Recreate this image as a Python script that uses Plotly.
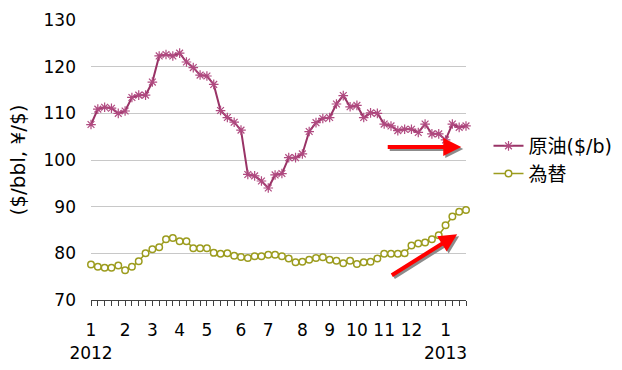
import plotly.graph_objects as go

# Weekly series, Jan 2012 - Jan 2013
crude_oil = [107.6, 110.9, 111.3, 111.1, 110.0, 110.5, 113.4, 113.9, 113.9, 116.7,
             122.3, 122.6, 122.3, 122.9, 121.0, 119.8, 118.2, 118.0, 116.2, 110.6,
             109.1, 108.1, 106.4, 96.9, 96.6, 95.5, 94.0, 96.8, 97.1, 100.5,
             100.5, 101.3, 106.1, 108.0, 108.9, 109.1, 112.0, 113.8, 111.4, 111.7,
             109.1, 110.1, 110.0, 107.7, 107.3, 106.3, 106.6, 106.6, 105.9, 107.7,
             105.6, 105.6, 104.3, 107.7, 107.0, 107.3]
usd_jpy = [77.6, 77.1, 76.9, 76.9, 77.4, 76.4, 77.1, 78.3, 80.0, 80.9,
           81.3, 83.0, 83.3, 82.6, 82.6, 81.1, 81.1, 81.1, 80.1, 79.9,
           80.0, 79.5, 79.2, 79.0, 79.4, 79.4, 79.7, 79.7, 79.4, 78.9,
           78.1, 78.2, 78.6, 79.0, 79.15, 78.6, 78.4, 77.9, 78.4, 77.7,
           78.1, 78.2, 78.9, 79.9, 79.9, 79.9, 80.0, 81.7, 82.1, 82.3,
           83.0, 83.9, 86.0, 87.9, 88.9, 89.3]
weeks = list(range(len(crude_oil)))

# Month labels at the first week of each month
month_weeks = [0, 5, 9, 13, 17, 22, 26, 31, 35, 39, 43, 47, 52]
month_labels = ["1<br>2012", "2", "3", "4", "5", "6", "7", "8", "9", "10", "11", "12", "1<br>2013"]

# Trend arrows (week, value): tail -> head
flat_arrow = dict(tail=(43.3, 102.8), head=(54.3, 102.8))
rise_arrow = dict(tail=(43.9, 75.1), head=(53.7, 84.1))

FONT = "DejaVu Sans, Noto Sans CJK JP, sans-serif"

fig = go.Figure()
fig.add_trace(go.Scatter(
    x=weeks, y=crude_oil, name="原油($/b)", mode="lines+markers",
    line=dict(color="#993366", width=2),
    marker=dict(symbol="asterisk-open", size=8, color="#b04a80",
                line=dict(color="#b04a80", width=1.2)),
    cliponaxis=False,
))
fig.add_trace(go.Scatter(
    x=weeks, y=usd_jpy, name="為替", mode="lines+markers",
    line=dict(color="#9c9c1e", width=1.5),
    marker=dict(symbol="circle", size=6.5, color="white",
                line=dict(color="#9c9c1e", width=1.5)),
    cliponaxis=False,
))

for arrow in (flat_arrow, rise_arrow):
    (ax, ay), (hx, hy) = arrow["tail"], arrow["head"]
    for color, shift in (("#8c8c8c", 2), ("#ff0000", 0)):
        fig.add_annotation(
            x=hx, y=hy, ax=ax, ay=ay, xref="x", yref="y", axref="x", ayref="y",
            text="", showarrow=True, arrowhead=2, arrowsize=0.9, arrowwidth=4,
            arrowcolor=color, xshift=shift, yshift=-shift, standoff=0,
        )

fig.update_layout(
    width=622, height=370,
    margin=dict(l=91, r=156, t=20, b=70, autoexpand=False),
    paper_bgcolor="white", plot_bgcolor="white",
    font=dict(family=FONT, size=17, color="#000000"),
    legend=dict(x=1.06, y=0.5, xanchor="left", yanchor="middle",
                font=dict(size=19), itemwidth=30, tracegroupgap=0),
    showlegend=True,
)
fig.update_xaxes(
    range=[0, 55], tickmode="array", tickvals=month_weeks, ticktext=month_labels,
    tickangle=0, automargin=False,
    showgrid=False, zeroline=False, showline=True, linecolor="#404040", linewidth=1,
    ticks="outside", ticklen=5, tickcolor="#404040", ticklabelstandoff=10,
    minor=dict(ticks="outside", dtick=1, tick0=0, ticklen=5, tickcolor="#404040", showgrid=False),
)
fig.update_yaxes(
    range=[70, 130], dtick=10, tick0=70, showgrid=True, gridcolor="#c8c8c8", gridwidth=1,
    zeroline=False, showline=False, ticks="", ticklabelstandoff=14, automargin=False,
    title=dict(text="($/bbl, ¥/$)", standoff=12),
)

fig.write_html("out.html")
